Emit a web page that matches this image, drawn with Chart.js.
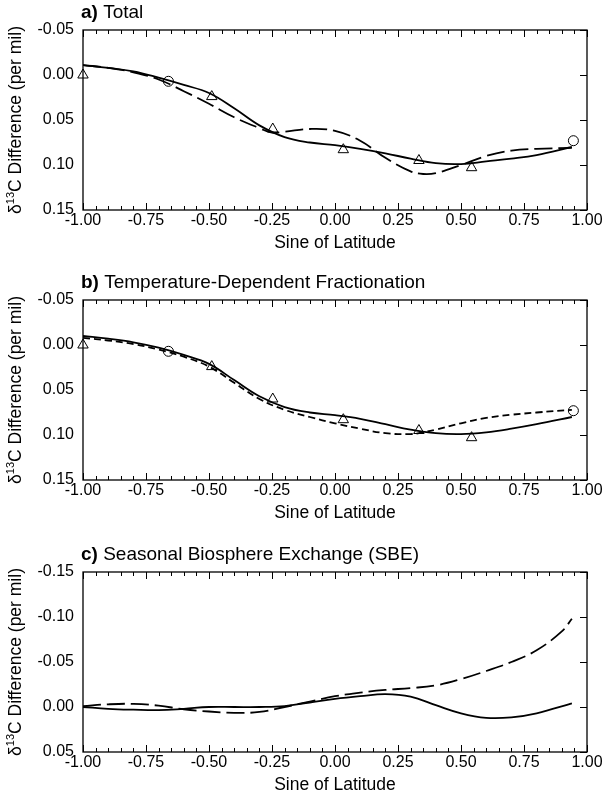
<!DOCTYPE html>
<html>
<head>
<meta charset="utf-8">
<script src="https://cdn.jsdelivr.net/npm/chart.js@4.4.0/dist/chart.umd.min.js"></script>
<style>
  html, body { margin: 0; padding: 0; background: #fff; }
  body { width: 610px; height: 796px; overflow: hidden; position: relative; }
  .panel { position: absolute; left: 0; width: 610px; height: 270px; }
</style>
</head>
<body>
<div class="panel" style="top:0px"><canvas id="chartA" width="610" height="270"></canvas></div>
<div class="panel" style="top:270px"><canvas id="chartB" width="610" height="270"></canvas></div>
<div class="panel" style="top:542px"><canvas id="chartC" width="610" height="270"></canvas></div>
<script>
var FONT = "'Liberation Sans', Arial, Helvetica, sans-serif";

// observations (same in panels a and b)
var obsTriX = [-1.0, -0.489, -0.247, 0.033, 0.333, 0.542];
var obsTriV = [0.000, 0.024, 0.060, 0.083, 0.095, 0.103];
var obsCircX = [-0.661, 0.946];
var obsCircV = [0.007, 0.073];

// a) Total
var totalX = [-1.0, -0.9, -0.8, -0.7, -0.6, -0.5, -0.4, -0.3, -0.2, -0.1, 0.0, 0.1, 0.2, 0.3, 0.4, 0.5, 0.6, 0.7, 0.8, 0.94];
var totalSolid = [-0.011, -0.008, -0.004, 0.003, 0.011, 0.020, 0.037, 0.056, 0.069, 0.075, 0.078, 0.082, 0.087, 0.093, 0.098, 0.099, 0.096, 0.093, 0.089, 0.080];
var totalDashX = [-1.0, -0.9, -0.8, -0.7, -0.6, -0.5, -0.4, -0.3, -0.25, -0.2, -0.1, 0.0, 0.1, 0.2, 0.3, 0.35, 0.4, 0.5, 0.6, 0.7, 0.8, 0.94];
var totalDash = [-0.011, -0.008, -0.003, 0.005, 0.018, 0.032, 0.047, 0.059, 0.064, 0.063, 0.060, 0.062, 0.073, 0.092, 0.107, 0.110, 0.109, 0.100, 0.090, 0.084, 0.082, 0.081];

// b) Temperature-dependent fractionation
var tempX = [-1.0, -0.9, -0.8, -0.7, -0.6, -0.5, -0.4, -0.3, -0.2, -0.1, 0.0, 0.1, 0.2, 0.3, 0.4, 0.5, 0.6, 0.7, 0.8, 0.94];
var tempSolid = [-0.010, -0.007, -0.003, 0.003, 0.011, 0.021, 0.039, 0.057, 0.069, 0.075, 0.078, 0.082, 0.088, 0.094, 0.098, 0.099, 0.097, 0.093, 0.088, 0.080];
var tempDashX = [-1.0, -0.9, -0.8, -0.7, -0.6, -0.5, -0.4, -0.3, -0.2, -0.1, 0.0, 0.1, 0.2, 0.3, 0.35, 0.4, 0.5, 0.6, 0.7, 0.8, 0.94];
var tempDash = [-0.008, -0.005, -0.001, 0.005, 0.013, 0.024, 0.042, 0.060, 0.072, 0.080, 0.087, 0.093, 0.098, 0.099, 0.097, 0.094, 0.087, 0.081, 0.0775, 0.075, 0.072];

// c) Seasonal biosphere exchange
var sbeX = [-1.0, -0.9, -0.8, -0.7, -0.6, -0.5, -0.4, -0.3, -0.2, -0.1, 0.0, 0.1, 0.2, 0.3, 0.4, 0.5, 0.6, 0.7, 0.8, 0.94];
var sbeSolid = [0.000, 0.002, 0.003, 0.0035, 0.002, 0.000, 0.000, 0.000, -0.001, -0.005, -0.009, -0.012, -0.0143, -0.0115, -0.002, 0.007, 0.012, 0.0115, 0.007, -0.004];
var sbeDashX = [-1.0, -0.9, -0.8, -0.7, -0.6, -0.5, -0.4, -0.3, -0.2, -0.1, 0.0, 0.1, 0.2, 0.3, 0.4, 0.5, 0.6, 0.7, 0.8, 0.9, 0.94];
var sbeDash = [-0.001, -0.003, -0.0035, -0.0015, 0.0025, 0.005, 0.0065, 0.0055, 0.0, -0.006, -0.012, -0.016, -0.019, -0.021, -0.024, -0.031, -0.040, -0.050, -0.063, -0.084, -0.098];

var xTicks = [-1.0, -0.75, -0.5, -0.25, 0.0, 0.25, 0.5, 0.75, 1.0];
var yRangeAB = [-0.05, 0.15];
var yRangeC = [-0.15, 0.05];

function pts(xs, vs) {
  return xs.map(function(x, i) { return { x: x, y: vs[i] }; });
}

function curve(xs, vs, dash) {
  return {
    type: 'line', data: pts(xs, vs), borderColor: '#000', borderWidth: 1.8,
    borderDash: dash || [], pointRadius: 0, tension: 0.4, fill: false
  };
}

function markers(xs, vs, style, r) {
  return {
    type: 'scatter', data: pts(xs, vs), showLine: false, pointStyle: style,
    pointRadius: r, pointBorderColor: '#000', pointBackgroundColor: 'rgba(255,255,255,0)',
    pointBorderWidth: 1, clip: false
  };
}

// frame, inward ticks, panel title and y title with superscript
var panelDeco = {
  id: 'panelDeco',
  afterDraw: function(chart, args, opts) {
    var ctx = chart.ctx, a = chart.chartArea;
    var xs = chart.scales.x, ys = chart.scales.y;
    ctx.save();
    ctx.strokeStyle = '#000';
    ctx.lineWidth = 1.3;
    ctx.strokeRect(a.left, a.top, a.right - a.left, a.bottom - a.top);
    ctx.lineWidth = 1;
    ctx.beginPath();
    for (var i = 0; i <= 40; i++) {
      var v = -1 + i * 0.05;
      var px = Math.round(xs.getPixelForValue(v)) + 0.5;
      var len = (i % 5 === 0) ? 7 : 4;
      ctx.moveTo(px, a.bottom); ctx.lineTo(px, a.bottom - len);
      ctx.moveTo(px, a.top); ctx.lineTo(px, a.top + len);
    }
    ys.ticks.forEach(function(t) {
      var py = Math.round(ys.getPixelForValue(t.value)) + 0.5;
      ctx.moveTo(a.right, py); ctx.lineTo(a.right - 7, py);
    });
    ctx.stroke();

    ctx.fillStyle = '#000';
    ctx.textBaseline = 'middle';
    ctx.textAlign = 'left';
    ctx.font = 'bold 19px ' + FONT;
    ctx.fillText(opts.tag, 81, 13);
    var w = ctx.measureText(opts.tag).width;
    ctx.font = '19px ' + FONT;
    ctx.fillText(' ' + opts.title, 81 + w, 13);

    ctx.translate(16, (a.top + a.bottom) / 2);
    ctx.rotate(-Math.PI / 2);
    ctx.font = '17.5px ' + FONT;
    var p1 = '\u03b4', p3 = 'C Difference (per mil)';
    var w1 = ctx.measureText(p1).width, w3 = ctx.measureText(p3).width;
    ctx.font = '11px ' + FONT;
    var w2 = ctx.measureText('13').width;
    var x0 = -(w1 + w2 + w3) / 2;
    ctx.font = '17.5px ' + FONT;
    ctx.fillText(p1, x0, 0);
    ctx.font = '11px ' + FONT;
    ctx.fillText('13', x0 + w1, -5);
    ctx.font = '17.5px ' + FONT;
    ctx.fillText(p3, x0 + w1 + w2, 0);
    ctx.restore();
  }
};

function buildPanel(canvasId, datasets, yRange, tag, title) {
  var ctx = document.getElementById(canvasId);
  return new Chart(ctx.getContext('2d'), {
    type: 'line',
    data: { datasets: datasets },
    plugins: [panelDeco],
    options: {
      responsive: false,
      animation: false,
      events: [],
      layout: { padding: { left: 0, right: 23, top: 30, bottom: 0 } },
      plugins: {
        legend: { display: false },
        tooltip: { enabled: false },
        panelDeco: { tag: tag, title: title }
      },
      scales: {
        x: {
          type: 'linear', min: -1, max: 1,
          grid: { display: false, drawTicks: false },
          border: { display: false },
          afterBuildTicks: function(s) { s.ticks = xTicks.map(function(v) { return { value: v }; }); },
          afterFit: function(s) { s.height = 60; },
          ticks: {
            padding: 1, color: '#000', maxRotation: 0, autoSkip: false,
            font: { family: FONT, size: 16 },
            callback: function(v) { return Number(v).toFixed(2); }
          },
          title: {
            display: true, text: 'Sine of Latitude', color: '#000',
            font: { family: FONT, size: 17.5 }, padding: { top: 0, bottom: 16 }
          }
        },
        y: {
          type: 'linear', reverse: true, min: yRange[0], max: yRange[1],
          grid: { display: false, drawTicks: false },
          border: { display: false },
          afterFit: function(s) { s.width = 83; },
          ticks: {
            stepSize: 0.05, padding: 9, color: '#000',
            font: { family: FONT, size: 16 },
            callback: function(v) { return (Math.abs(v) < 1e-9 ? 0 : v).toFixed(2); }
          }
        }
      }
    }
  });
}

buildPanel('chartA', [
  curve(totalX, totalSolid),
  curve(totalDashX, totalDash, [18, 6]),
  markers(obsTriX, obsTriV, 'triangle', 6),
  markers(obsCircX, obsCircV, 'circle', 5)
], yRangeAB, 'a)', 'Total');

buildPanel('chartB', [
  curve(tempX, tempSolid),
  curve(tempDashX, tempDash, [7, 4]),
  markers(obsTriX, obsTriV, 'triangle', 6),
  markers(obsCircX, obsCircV, 'circle', 5)
], yRangeAB, 'b)', 'Temperature-Dependent Fractionation');

buildPanel('chartC', [
  curve(sbeX, sbeSolid),
  curve(sbeDashX, sbeDash, [18, 6])
], yRangeC, 'c)', 'Seasonal Biosphere Exchange (SBE)');
</script>
</body>
</html>
